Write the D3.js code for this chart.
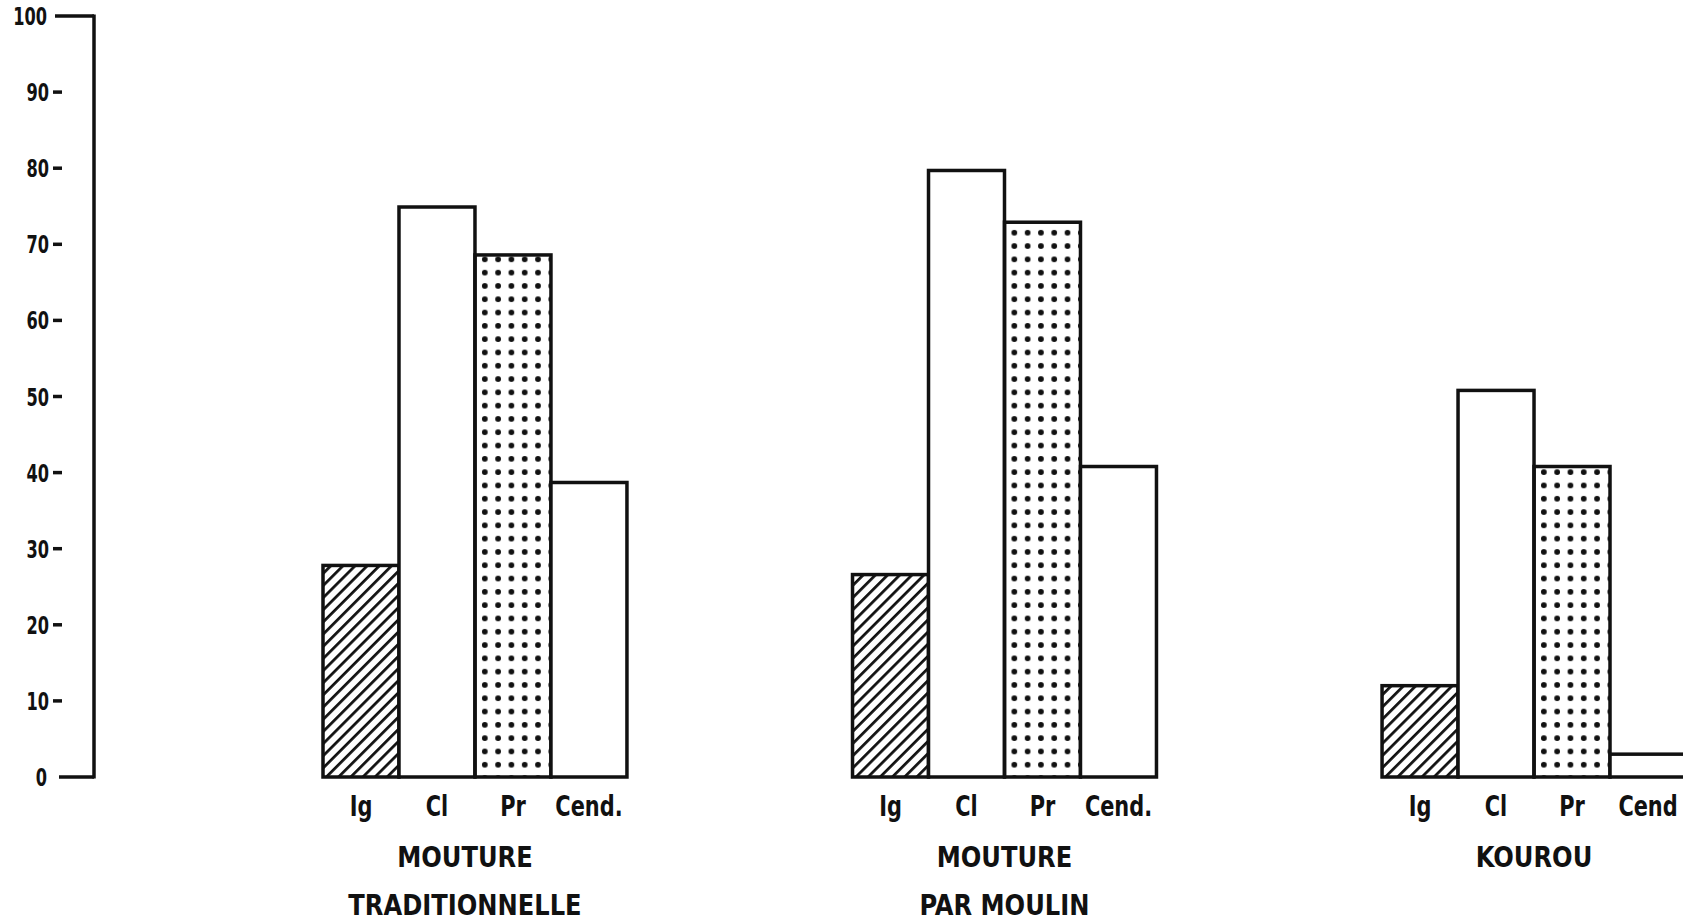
<!DOCTYPE html>
<html>
<head>
<meta charset="utf-8">
<script src="https://cdn.jsdelivr.net/npm/d3@7"></script>
<style>
  body { margin: 0; background: #fff; }
  svg { display: block; }
  text { font-family: "DejaVu Sans Condensed", "Liberation Sans Narrow", sans-serif; font-weight: bold; fill: #111; }
</style>
</head>
<body>
<svg id="chart"></svg>
<script>
// data (percent)
const groups = ["trad", "moulin", "kourou"];
const groupTitles = [["MOUTURE", "TRADITIONNELLE"], ["MOUTURE", "PAR MOULIN"], ["KOUROU"]];
const categories = ["Ig", "Cl", "Pr", "Cend."];
const catLabels = [["Ig", "Cl", "Pr", "Cend."], ["Ig", "Cl", "Pr", "Cend."], ["Ig", "Cl", "Pr", "Cend"]];
const valuesTrad = [27.8, 74.9, 68.6, 38.7];
const valuesMoulin = [26.6, 79.7, 72.9, 40.8];
const valuesKourou = [12.0, 50.8, 40.8, 3.0];
const yTicks = [0, 10, 20, 30, 40, 50, 60, 70, 80, 90, 100];

const series = [valuesTrad, valuesMoulin, valuesKourou];

const width = 1683;
const height = 921;

const svg = d3.select("#chart")
  .attr("width", width)
  .attr("height", height);

// patterns
const defs = svg.append("defs");
const hatch = defs.append("pattern")
  .attr("id", "hatch")
  .attr("patternUnits", "userSpaceOnUse")
  .attr("width", 8.6)
  .attr("height", 8.6)
  .attr("patternTransform", "rotate(45)");
hatch.append("line")
  .attr("x1", 0).attr("y1", 0).attr("x2", 0).attr("y2", 8.6)
  .attr("stroke", "#111").attr("stroke-width", 5.5);

const dots = defs.append("pattern")
  .attr("id", "dots")
  .attr("patternUnits", "userSpaceOnUse")
  .attr("x", 481 - 6.65).attr("y", 0)
  .attr("width", 13.3)
  .attr("height", 13.3);
dots.append("circle")
  .attr("cx", 6.65).attr("cy", 6.65).attr("r", 2.9)
  .attr("fill", "#111");

const fills = ["url(#hatch)", "#fff", "url(#dots)", "#fff"];

// scales
const yScale = d3.scaleLinear()
  .domain([0, 100])
  .range([777, 16]);

const xGroup = d3.scaleBand()
  .domain(groups)
  .range([323, 1686])
  .paddingInner(0.426)
  .paddingOuter(0);

const xCat = d3.scaleBand()
  .domain(categories)
  .range([0, xGroup.bandwidth()])
  .padding(0);

// y axis
const axisX = 94;
const ax = svg.append("g").attr("class", "y-axis");
ax.append("line")
  .attr("x1", axisX).attr("x2", axisX)
  .attr("y1", yScale(100) - 1.5).attr("y2", yScale(0) + 1.5)
  .attr("stroke", "#111").attr("stroke-width", 3.5);

ax.selectAll("line.tick")
  .data(yTicks)
  .enter()
  .append("line")
  .attr("class", "tick")
  .attr("x1", d => d === 100 ? 55 : d === 0 ? 59 : 53)
  .attr("x2", d => (d === 100 || d === 0) ? axisX : 62)
  .attr("y1", d => yScale(d))
  .attr("y2", d => yScale(d))
  .attr("stroke", "#111")
  .attr("stroke-width", 3.5);

ax.selectAll("text")
  .data(yTicks)
  .enter()
  .append("text")
  .attr("transform", d => `translate(${d === 100 || d === 0 ? 47 : 49}, ${yScale(d) + 9}) scale(0.72, 1)`)
  .attr("text-anchor", "end")
  .attr("font-size", 25)
  .text(d => d);

// bars
const g = svg.selectAll("g.group")
  .data(groups)
  .enter()
  .append("g")
  .attr("class", "group")
  .attr("transform", d => `translate(${xGroup(d)}, 0)`);

g.selectAll("rect")
  .data((d, i) => series[i].map((v, j) => ({ cat: categories[j], v: v })))
  .enter()
  .append("rect")
  .attr("x", d => xCat(d.cat))
  .attr("y", d => yScale(d.v))
  .attr("width", xCat.bandwidth())
  .attr("height", d => yScale(0) - yScale(d.v))
  .attr("fill", (d, j) => fills[j])
  .attr("stroke", "#111")
  .attr("stroke-width", 3.5);

// category labels
g.selectAll("text.cat")
  .data((d, i) => catLabels[i].map((t, j) => ({ cat: categories[j], t: t })))
  .enter()
  .append("text")
  .attr("class", "cat")
  .attr("transform", d => `translate(${xCat(d.cat) + xCat.bandwidth() / 2}, 816) scale(0.8, 1)`)
  .attr("text-anchor", "middle")
  .attr("font-size", 29)
  .text(d => d.t);

// group titles
g.selectAll("text.title")
  .data((d, i) => groupTitles[i].map((t, k) => ({ t: t, k: k, i: i })))
  .enter()
  .append("text")
  .attr("class", "title")
  .attr("transform", d => `translate(${xGroup.bandwidth() / 2 + (d.i === 0 ? -10 : 0)}, ${867 + d.k * 48}) scale(0.96, 1)`)
  .attr("text-anchor", "middle")
  .attr("font-size", 28)
  .text(d => d.t);
</script>
</body>
</html>
